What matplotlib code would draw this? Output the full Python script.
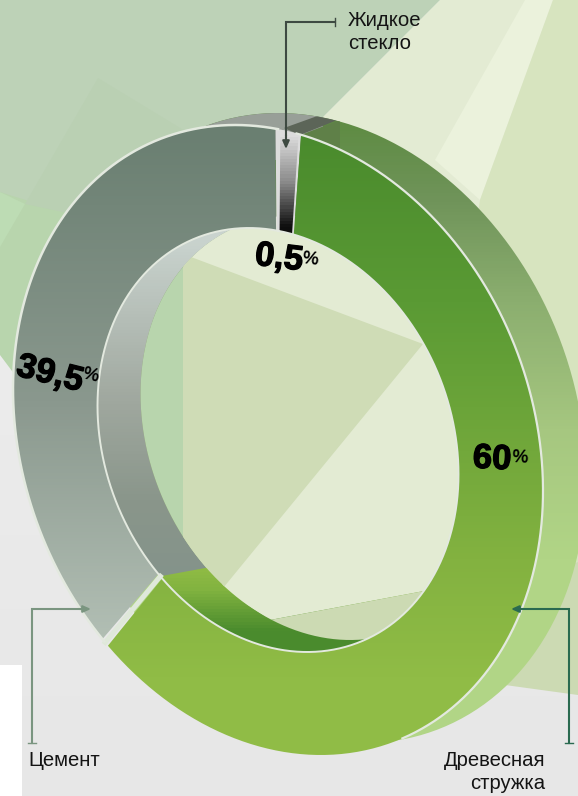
import numpy as np
import matplotlib
matplotlib.use('Agg')
import matplotlib.pyplot as plt
import matplotlib.patheffects as pe
from matplotlib.colors import LinearSegmentedColormap
from matplotlib.path import Path
from matplotlib.patches import Polygon, Rectangle

W, H = 578, 796

# chart values
materials = ['Древесная\nстружка', 'Цемент', 'Жидкое\nстекло']
shares = ['60', '39,5', '0,5']
# share of the ring each slice takes up in the picture, percent
drawn_shares = [59.7, 38.3, 1.1]

# colour stops as (pixel row, colour)
green_stops = [(135, '#4a8b2d'), (300, '#5a9a34'), (560, '#83b240'), (680, '#90bc46')]
cement_stops = [(130, '#6a7f71'), (400, '#8a988e'), (640, '#b2bfb4')]
glass_stops = [(135, '#dcdcdc'), (180, '#8c8c8c'), (226, '#0e0e0e')]
wall_stops = [(125, '#5f8c44'), (200, '#70945a'), (300, '#8bae6f'), (430, '#a6c780'), (560, '#b1d586')]
inner_grey_stops = [(240, '#c9d3ce'), (400, '#a0a89f'), (500, '#8a968b'), (580, '#84938a')]
inner_green_stops = [(570, '#8fbb45'), (590, '#82b340'), (632, '#4a8b2d')]

OUT = (265, 315)
INN = (180.5, 212)
FRONT = (278, 440)
BACK = (321, 428)
TILT = np.radians(9.3)
RIM = '#e3e9df'


def ellipse(center, radii, deg):
    t = np.radians(deg)
    x = center[0] + radii[0] * np.sin(t)
    y = center[1] - radii[1] * (np.cos(t) * np.cos(TILT) - np.sin(t) * np.sin(TILT))
    return x, y


def loop(center, radii, a=0, b=360):
    x, y = ellipse(center, radii, np.linspace(a, b, 361))
    return np.column_stack([x, y])


def ring_path(c1, r1, c2, r2):
    # second loop runs the other way round, so it is cut out
    return Path(np.vstack([loop(c1, r1), loop(c2, r2)[::-1]]))


def gradient(path, stops, z):
    # full canvas image, colours fixed by pixel row, clipped to the shape
    stops = [(y / H, c) for y, c in stops]
    stops = [(0, stops[0][1])] + stops + [(1, stops[-1][1])]
    cmap = LinearSegmentedColormap.from_list('g', stops)
    im = ax.imshow(np.linspace(0, 1, H)[:, None], extent=(0, W, H, 0),
                   cmap=cmap, aspect='auto', zorder=z)
    im.set_clip_path(path, ax.transData)


def sector(a, b):
    return Path(np.vstack([loop(FRONT, OUT, a, b), loop(FRONT, INN, a, b)[::-1]]))


fig = plt.figure(figsize=(W / 100, H / 100), dpi=100)
ax = fig.add_axes([0, 0, 1, 1])
ax.axis('off')

# background shapes
bg = LinearSegmentedColormap.from_list('bg', ['#f0f0f0', '#e7e7e7'])
ax.imshow(np.linspace(0, 1, 64)[:, None], extent=(0, W, H, 0), cmap=bg, aspect='auto', zorder=0)
ax.add_patch(Rectangle((0, 665), 22, 131, color='white', lw=0, zorder=1))
shapes = [
    ([(0, 190), (190, 240), (183, 590), (15, 375), (0, 355)], '#b8d5ad'),
    ([(0, 192), (25, 204), (0, 247)], '#bddcb4'),
    ([(320, 120), (440, 0), (553, 0), (578, 300), (578, 562), (270, 620),
      (223, 590), (183, 254), (150, 150)], '#e3ebd3'),
    ([(183, 254), (423, 344), (210, 604), (183, 604)], '#cfdcb6'),
    ([(0, 0), (440, 0), (320, 120), (67, 213), (0, 192)], '#bdd2b7'),
    ([(98, 78), (25, 204), (67, 213), (200, 140)], '#bad0b3'),
    ([(525, 0), (553, 0), (480, 200), (435, 160)], '#ebf2dc'),
    ([(553, 0), (578, 0), (578, 562), (420, 592), (480, 200)], '#d7e4bf'),
    ([(270, 620), (578, 562), (578, 695), (505, 685), (270, 660)], '#ccdab3'),
]
for pts, col in shapes:
    ax.add_patch(Polygon(pts, closed=True, color=col, lw=0, zorder=2))

# side wall of the ring
wall = ring_path(BACK, OUT, BACK, INN)
gradient(wall, wall_stops, 3)
top_wall = ax.add_patch(Rectangle((150, 100), 173, 60, color='#989f98', lw=0, zorder=4))
top_wall.set_clip_path(wall, ax.transData)
joint_low = ax.add_patch(Polygon([(298, 136), (340, 120), (340, 160), (298, 160)],
                                 closed=True, color='#5f8048', lw=0, zorder=4))
joint_low.set_clip_path(wall, ax.transData)
joint = ax.add_patch(Polygon([(284, 128), (323, 114), (340, 119), (300, 135)],
                             closed=True, color='#5c6558', lw=0, zorder=4))
joint.set_clip_path(wall, ax.transData)

# inside wall, seen through the hole
inner = ring_path(FRONT, INN, BACK, INN)
gradient(inner, inner_grey_stops, 5)
gradient(Path(np.vstack([loop(FRONT, INN, 125, 220.7), [(205, 568), (470, 568)]])),
         inner_green_stops, 6)
# the hole itself stays background: redraw it on top of the green wall
for pts, col in [shapes[2], shapes[3], shapes[8]]:
    p = ax.add_patch(Polygon(pts, closed=True, color=col, lw=0, zorder=7))
    p.set_clip_path(Path(loop(BACK, INN)), ax.transData)

# front face
starts = [5.0, 221.5, 0.5]
stops_by_slice = [green_stops, cement_stops, glass_stops]
ax.add_patch(Polygon(sector(-0.5, 5.0).vertices, closed=True, color='#dcdcdc', lw=0, zorder=8))
for start, part, st in zip(starts, drawn_shares, stops_by_slice):
    a, b = start, start + part * 3.6
    gradient(sector(a, b), st, 9)

# thin rims
xy = loop(FRONT, OUT, 4, 152)
ax.plot(xy[:, 0], xy[:, 1], color=RIM, lw=1.6, zorder=10)
xy = loop(FRONT, OUT, 221, 360)
ax.plot(xy[:, 0], xy[:, 1], color=RIM, lw=1.8, zorder=10)
xy = loop(FRONT, INN)
ax.plot(xy[:, 0], xy[:, 1], color=RIM, lw=1.4, zorder=10)
xs, ys = ellipse(FRONT, OUT, 220.7), ellipse(FRONT, INN, 220.7)
ax.plot([xs[0], ys[0]], [xs[1], ys[1]], color='#dfe8da', lw=3.6, zorder=8)

# leader lines
leaders = [
    ([335, 286, 286], [22, 22, 135], (286, 149), '#3e4a42', ([335, 335], [18, 26])),
    ([32, 32, 80], [743, 609, 609], (91, 609), '#7a9580', ([28, 36], [743, 743])),
    ([569, 569, 522], [743, 609, 609], (511, 609), '#2a6a50', ([565, 573], [743, 743])),
]
for lx, ly, tip, col, tick in leaders:
    ax.plot(lx, ly, color=col, lw=1.5, zorder=12, solid_joinstyle='miter')
    ax.plot(tick[0], tick[1], color=col, lw=1.0, zorder=12)
    ax.annotate('', xy=tip, xytext=(lx[-1], ly[-1]), zorder=12,
                arrowprops=dict(arrowstyle='-|>,head_length=0.45,head_width=0.2', color=col,
                                lw=1.5, shrinkA=0, shrinkB=0))

# captions
font = 'Liberation Sans'
ax.text(348, 32, materials[2], family=font, fontsize=14.6, color='#141414', va='center',
        ha='left', linespacing=1.3, zorder=13)
ax.text(28, 760, materials[1], family=font, fontsize=14.6, color='#141414', va='center',
        ha='left', zorder=13)
ax.text(545, 772, materials[0], family=font, fontsize=14.6, color='#141414', va='center',
        ha='right', linespacing=1.3, multialignment='right', zorder=13)

# percent labels
labels = [
    (shares[0], (492, 459), (520, 458), -3),
    (shares[1], (50, 374), (90, 376), -14),
    (shares[2], (279, 258), (310, 260), -7),
]
heavy = [pe.withStroke(linewidth=0.9, foreground='black')]
for txt, pos, pos2, rot in labels:
    ax.text(pos[0], pos[1], txt, family=font, fontsize=25, fontweight='bold', color='black',
            ha='center', va='center', rotation=rot, rotation_mode='anchor', zorder=14,
            path_effects=heavy)
    ax.text(pos2[0], pos2[1], '%', family=font, fontsize=13, fontweight='bold', color='black',
            ha='center', va='center', rotation=rot, rotation_mode='anchor', zorder=14)

ax.set_xlim(0, W)
ax.set_ylim(H, 0)
fig.savefig('out.png', dpi=100)
